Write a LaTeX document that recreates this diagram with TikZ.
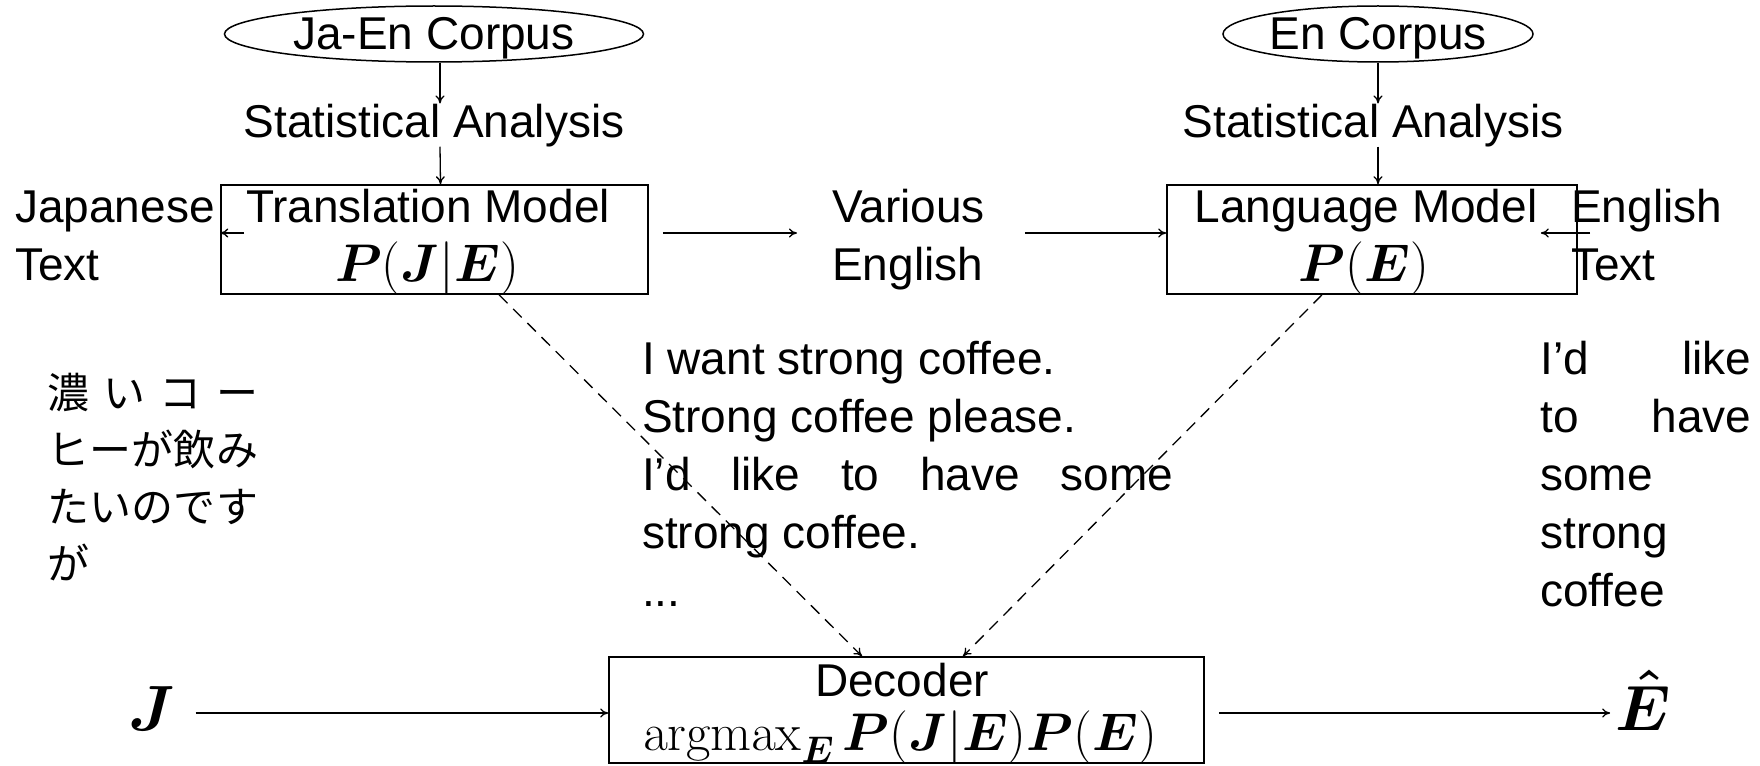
\RequirePackage{fix-cm}
\documentclass[tikz,border=0pt]{standalone}
\usepackage{bm}
\usepackage[no-math]{fontspec}
\setmainfont{Liberation Sans}
\newfontfamily\jafont{Noto Sans CJK JP}
\usetikzlibrary{shapes.geometric,arrows.meta}
\newcommand{\lns}[1]{\begin{tabular}[t]{@{}l@{}}#1\end{tabular}}
\begin{document}
\begin{tikzpicture}[x=1pt,y=-1pt,
  txt/.style={font=\fontsize{46}{58}\selectfont, inner sep=0pt, anchor=base},
  blk/.style={font=\fontsize{46}{58}\selectfont, inner sep=0pt, anchor=base west},
  mth/.style={font=\fontsize{53}{58}\selectfont, inner sep=0pt, anchor=base},
  big/.style={font=\fontsize{64}{64}\selectfont, inner sep=0pt, anchor=base},
  box/.style={draw, line width=1.6pt, inner sep=0pt},
  ell/.style={draw, ellipse, line width=1.5pt, inner sep=0pt},
  arr/.style={-{To[length=8pt,width=9pt]}, line width=1.3pt},
  dsh/.style={arr, dash pattern=on 12pt off 8pt},
]
\useasboundingbox (0,0) rectangle (1760,765);
\coordinate (row) at (0,233);
\coordinate (row2) at (0,713);

% left column
\node[ell, minimum width=419pt, minimum height=56pt] (jaen) at (434,34) {};
\node[txt] (jaent) at (434,50) {Ja-En Corpus};
\node[txt] (sa1) at (434,137) {Statistical Analysis};
\node[box, minimum width=427pt, minimum height=109pt] (tm) at (434.5,239.5) {};
\node[txt] (tmt) at (428,222) {Translation Model};
\node[mth] (tmm) at (427,281) {$\bm{P}(\bm{J}|\bm{E})$};
\node[blk] (jt) at (15,222) {\lns{Japanese\\Text}};

% middle
\node[blk] (var) at (832,222) {\lns{Various\\English}};

% right column
\node[ell, minimum width=310pt, minimum height=56pt] (en) at (1378,34) {};
\node[txt] (ent) at (1378,50) {En Corpus};
\node[txt] (sa2) at (1373,137) {Statistical Analysis};
\node[box, minimum width=410pt, minimum height=109pt] (lm) at (1372,239.5) {};
\node[txt] (lmt) at (1366,222) {Language Model};
\node[mth] (lmm) at (1364,281) {$\bm{P}(\bm{E})$};
\node[blk] (et) at (1571,222) {\lns{English\\Text}};

% example texts
\node[blk, font=\jafont\fontsize{42}{57.3}\selectfont] (ja) at (47,408) {\lns{%
\hbox to 211pt{濃\hfill い\hfill コ\hfill ー}\\
\hbox to 211pt{ヒ\hfill ー\hfill が\hfill 飲\hfill み}\\
\hbox to 211pt{た\hfill い\hfill の\hfill で\hfill す}\\
が}};
\node[blk] (ex) at (642,374) {\lns{I want strong coffee.\\
Strong coffee please.\\
\hbox to 531pt{I'd\hfill like\hfill to\hfill have\hfill some}\\
strong coffee.\\
...}};
\node[blk] (ex2) at (1540,374) {\lns{\hbox to 211pt{I'd\hfill like}\\
\hbox to 211pt{to\hfill have}\\
some\\
strong\\
coffee}};

% decoder
\node[box, minimum width=595pt, minimum height=106pt] (dec) at (906.5,710) {};
\node[txt] (dect) at (902,696) {Decoder};
\node[mth] (decm) at (900,750) {$\mathrm{argmax}_{\bm{E}}\,\bm{P}(\bm{J}|\bm{E})\bm{P}(\bm{E})$};
\node[big] (J) at (152,730) {$\bm{J}$};
\node[big] (Eh) at (1643,730) {$\bm{\hat{E}}$};

% connectors
\draw[arr] ([xshift=6pt]jaen.south) -- ([xshift=6pt]sa1.north);
\draw[arr] ([xshift=6pt]sa1.south) -- ([xshift=6pt]tm.north);
\draw[arr] (en.south) -- (en.south |- sa2.north);
\draw[arr] (en.south |- sa2.south) -- (en.south |- lm.north);
\draw[arr] ([xshift=24pt]tm.west |- row) -- (tm.west |- row);
\draw[arr, shorten <=14pt, shorten >=35pt] (tm.east |- row) -- (var.west |- row);
\draw[arr, shorten <=40pt] (var.east |- row) -- (lm.west |- row);
\draw[arr] ([xshift=19pt]et.west |- row) -- ([xshift=-37pt]lm.east |- row);
\draw[dsh] ([xshift=64.5pt]tm.south) -- ([xshift=-44.5pt]dec.north);
\draw[dsh] ([xshift=-50pt]lm.south) -- ([xshift=56.5pt]dec.north);
\draw[arr, shorten <=20pt] (J.east |- row2) -- (dec.west |- row2);
\draw[arr, shorten <=14pt, shorten >=5pt] (dec.east |- row2) -- (Eh.west |- row2);
\end{tikzpicture}
\end{document}
